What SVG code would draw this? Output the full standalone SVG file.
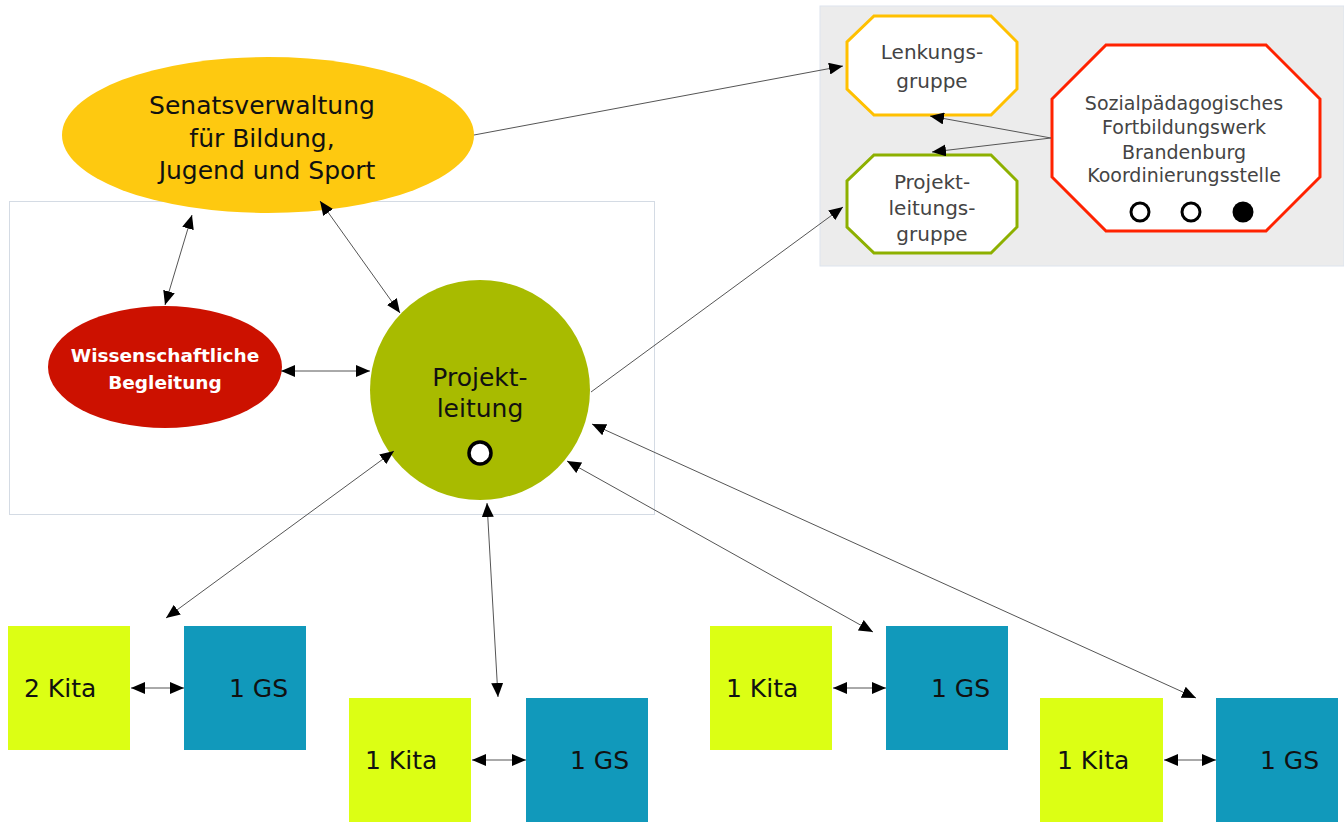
<svg xmlns="http://www.w3.org/2000/svg" width="1344" height="823" viewBox="0 0 1344 823">
<defs>
<marker id="ah" viewBox="0 0 14 12" refX="14" refY="6" markerWidth="14" markerHeight="12" markerUnits="userSpaceOnUse" orient="auto-start-reverse">
<path d="M0,0 L14,6 L0,12 Z" fill="#000"/>
</marker>
<style>
.t{font-family:"DejaVu Sans",Verdana,sans-serif;text-anchor:middle}
.c{stroke:#555;stroke-width:1;fill:none}
.kita{fill:#dcff14}
.gs{fill:#1199bb}
.bx{font-family:"DejaVu Sans",Verdana,sans-serif;font-size:25px;fill:#111}
</style>
</defs>
<rect width="1344" height="823" fill="#fff"/>
<rect x="820" y="6" width="524" height="260" fill="#ececec" stroke="#dde4ee" stroke-width="1"/>
<rect x="9.5" y="201.5" width="645" height="313" fill="none" stroke="#d4dbe4" stroke-width="1"/>

<g id="lenkungsgruppe">
<polygon points="874,16 991,16 1017,42 1017,89 991,115 874,115 847,89 847,42" fill="#fff" stroke="#ffc000" stroke-width="3"/>
<text class="t" font-size="20" fill="#444"><tspan x="932" y="59">Lenkungs-</tspan><tspan x="932" y="88">gruppe</tspan></text>
</g>
<g id="projektleitungsgruppe">
<polygon points="874,155 991,155 1017,181 1017,227 991,253 874,253 847,227 847,181" fill="#fff" stroke="#8db000" stroke-width="3"/>
<text class="t" font-size="20" fill="#444"><tspan x="932" y="189">Projekt-</tspan><tspan x="932" y="215">leitungs-</tspan><tspan x="932" y="241">gruppe</tspan></text>
</g>
<g id="spfb">
<polygon points="1106,45 1266,45 1320,99 1320,177 1266,231 1106,231 1052,177 1052,99" fill="#fff" stroke="#ff2200" stroke-width="3"/>
<text class="t" font-size="19" fill="#444"><tspan x="1184" y="110">Sozialpädagogisches</tspan><tspan x="1184" y="134">Fortbildungswerk</tspan><tspan x="1184" y="159">Brandenburg</tspan><tspan x="1184" y="182">Koordinierungsstelle</tspan></text>
<circle cx="1140" cy="212" r="9" fill="#fff" stroke="#000" stroke-width="3"/>
<circle cx="1191" cy="212" r="9" fill="#fff" stroke="#000" stroke-width="3"/>
<circle cx="1243" cy="212" r="10.5" fill="#000"/>
</g>

<g id="senatsverwaltung">
<ellipse cx="268" cy="135" rx="206" ry="78" fill="#fec910"/>
<text class="t" font-size="25" fill="#111"><tspan x="262" y="114">Senatsverwaltung</tspan><tspan x="262" y="147">für Bildung,</tspan><tspan x="267" y="179">Jugend und Sport</tspan></text>
</g>
<g id="wissenschaftliche">
<ellipse cx="165" cy="367" rx="117" ry="61" fill="#cc1100"/>
<text class="t" font-size="18.5" font-weight="bold" fill="#fff" font-family="Liberation Sans"><tspan x="165" y="362">Wissenschaftliche</tspan><tspan x="165" y="389">Begleitung</tspan></text>
</g>
<g id="projektleitung">
<ellipse cx="480" cy="390" rx="110" ry="110" fill="#a8bb00"/>
<text class="t" font-size="25" fill="#111"><tspan x="480" y="386">Projekt-</tspan><tspan x="480" y="417">leitung</tspan></text>
<circle cx="480" cy="453" r="11" fill="#fff" stroke="#000" stroke-width="3.5"/>
</g>

<g id="group1">
<rect class="kita" x="8" y="626" width="122" height="124"/>
<text class="bx" x="24" y="697">2 Kita</text>
<rect class="gs" x="184" y="626" width="122" height="124"/>
<text class="bx" x="229" y="697">1 GS</text>
</g>
<g id="group2">
<rect class="kita" x="349" y="698" width="122" height="124"/>
<text class="bx" x="365" y="769">1 Kita</text>
<rect class="gs" x="526" y="698" width="122" height="124"/>
<text class="bx" x="570" y="769">1 GS</text>
</g>
<g id="group3">
<rect class="kita" x="710" y="626" width="122" height="124"/>
<text class="bx" x="726" y="697">1 Kita</text>
<rect class="gs" x="886" y="626" width="122" height="124"/>
<text class="bx" x="931" y="697">1 GS</text>
</g>
<g id="group4">
<rect class="kita" x="1040" y="698" width="123" height="124"/>
<text class="bx" x="1057" y="769">1 Kita</text>
<rect class="gs" x="1216" y="698" width="122" height="124"/>
<text class="bx" x="1260" y="769">1 GS</text>
</g>

<g id="connectors">
<line class="c" x1="474" y1="135" x2="843" y2="66" marker-end="url(#ah)"/>
<line class="c" x1="591" y1="392" x2="843" y2="207" marker-end="url(#ah)"/>
<line class="c" x1="1051" y1="138" x2="930" y2="116" marker-end="url(#ah)"/>
<line class="c" x1="1051" y1="138" x2="932" y2="152" marker-end="url(#ah)"/>
<line class="c" x1="192" y1="215" x2="165" y2="305" marker-start="url(#ah)" marker-end="url(#ah)"/>
<line class="c" x1="320" y1="201" x2="400" y2="313" marker-start="url(#ah)" marker-end="url(#ah)"/>
<line class="c" x1="281" y1="371" x2="370" y2="371" marker-start="url(#ah)" marker-end="url(#ah)"/>
<line class="c" x1="394" y1="451" x2="166" y2="618" marker-start="url(#ah)" marker-end="url(#ah)"/>
<line class="c" x1="487" y1="503" x2="498" y2="697" marker-start="url(#ah)" marker-end="url(#ah)"/>
<line class="c" x1="567" y1="461" x2="873" y2="632" marker-start="url(#ah)" marker-end="url(#ah)"/>
<line class="c" x1="592" y1="424" x2="1196" y2="698" marker-start="url(#ah)" marker-end="url(#ah)"/>
<line class="c" x1="131" y1="688" x2="184" y2="688" marker-start="url(#ah)" marker-end="url(#ah)"/>
<line class="c" x1="472" y1="760" x2="526" y2="760" marker-start="url(#ah)" marker-end="url(#ah)"/>
<line class="c" x1="833" y1="688" x2="886" y2="688" marker-start="url(#ah)" marker-end="url(#ah)"/>
<line class="c" x1="1164" y1="760" x2="1216" y2="760" marker-start="url(#ah)" marker-end="url(#ah)"/>
</g>
</svg>
